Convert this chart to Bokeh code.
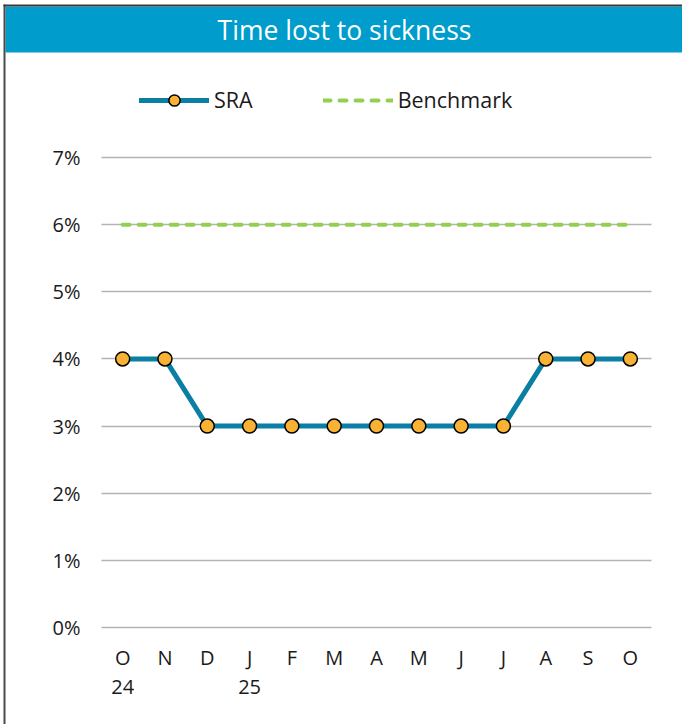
from bokeh.plotting import figure
from bokeh.models import (BoxAnnotation, Label, Legend, LegendItem, FixedTicker,
                          PrintfTickFormatter, Range1d)
from bokeh.embed import file_html
from bokeh.resources import INLINE

# Monthly time lost to sickness (%), Oct 2024 - Oct 2025
months = ["O\n24", "N", "D", "J\n25", "F", "M", "A", "M", "J", "J", "A", "S", "O"]
sra = [4, 4, 3, 3, 3, 3, 3, 3, 3, 3, 4, 4, 4]
benchmark = [6, 6, 6, 6, 6, 6, 6, 6, 6, 6, 6, 6, 6]
y_ticks = [0, 1, 2, 3, 4, 5, 6, 7]

FONT = "Open Sans"
TEAL = "#0A7FA3"
ORANGE = "#F9B233"
GREEN = "#92D050"
BAR = "#009CCB"

W, H = 682, 724
# plot area inside the canvas (pixels)
PL, PR, PT, PB = 101, 651, 157, 627

xs = list(range(len(months)))
x0, x1 = -0.5, len(months) - 0.5
y0, y1 = y_ticks[0], y_ticks[-1]

# the frame fills the whole canvas; ranges are padded so the data area
# lands on the plot area above
kx = (PR - PL) / (x1 - x0)
ky = (PB - PT) / (y1 - y0)
x_range = Range1d(x0 - PL / kx, x1 + (W - PR) / kx)
y_range = Range1d(y0 - (H - PB) / ky, y1 + PT / ky)

p = figure(width=W, height=H, output_backend="svg", toolbar_location=None,
           x_range=x_range, y_range=y_range,
           min_border_left=0, min_border_right=0,
           min_border_top=0, min_border_bottom=0)
p.outline_line_color = None
p.background_fill_color = "white"
p.border_fill_color = "white"

# axes drawn at the edges of the data area
p.xaxis.fixed_location = y0
p.yaxis.fixed_location = x0
p.xaxis.ticker = FixedTicker(ticks=xs)
p.xaxis.major_label_overrides = {i: m for i, m in enumerate(months)}
p.yaxis.ticker = FixedTicker(ticks=y_ticks)
p.yaxis.formatter = PrintfTickFormatter(format="%d%%")
for ax in (p.xaxis[0], p.yaxis[0]):
    ax.axis_line_color = None
    ax.major_tick_line_color = None
    ax.minor_tick_line_color = None
    ax.major_tick_out = 0
    ax.major_tick_in = 0
    ax.minor_tick_out = 0
    ax.major_label_text_font = FONT
    ax.major_label_text_font_size = "20px"
    ax.major_label_text_color = "#1a1a1a"
p.yaxis.major_label_standoff = 21
p.xaxis.major_label_standoff = 16
p.xaxis.major_label_text_line_height = 1.1

p.xgrid.grid_line_color = None
p.ygrid.grid_line_color = "#B3B3B3"
p.ygrid.grid_line_width = 1.6
p.ygrid.cross_bounds = (x0, x1)

# series
bench_r = p.line(xs, benchmark, line_color=GREEN, line_width=4, line_dash="7 9",
                 line_cap="round")
sra_line = p.line(xs, sra, line_color=TEAL, line_width=5, line_cap="round")
sra_pts = p.scatter(xs, sra, marker="circle", size=14, fill_color=ORANGE,
                    line_color="black", line_width=1.5)

legend = Legend(items=[LegendItem(label="SRA", renderers=[sra_line, sra_pts]),
                       LegendItem(label="Benchmark", renderers=[bench_r])],
                orientation="horizontal", location=(139, H - 114),
                glyph_width=70, glyph_height=28, label_standoff=5, spacing=70,
                padding=0, margin=0, border_line_color=None,
                background_fill_alpha=0,
                label_text_font=FONT, label_text_font_size="21.5px",
                label_text_color="#1a1a1a")
p.add_layout(legend, "center")

# header bar and frame lines
def canvas_box(left, right, top, bottom, color):
    return BoxAnnotation(left=left, right=right, top=top, bottom=bottom,
                         left_units="canvas", right_units="canvas",
                         top_units="canvas", bottom_units="canvas",
                         fill_color=color, fill_alpha=1, line_color=None,
                         level="underlay")

p.add_layout(canvas_box(5, W, 6, 52, BAR))
p.add_layout(canvas_box(3, 5, 4, H, "#4A4A4A"))
p.add_layout(canvas_box(3, W, 4, 6, "#3A3A3A"))
p.add_layout(Label(x=344, y=29, x_units="canvas", y_units="canvas",
                   text="Time lost to sickness", text_align="center",
                   text_baseline="middle", text_color="white",
                   text_font=FONT, text_font_size="26.5px"))

open("out.html", "w").write(file_html(p, INLINE))
